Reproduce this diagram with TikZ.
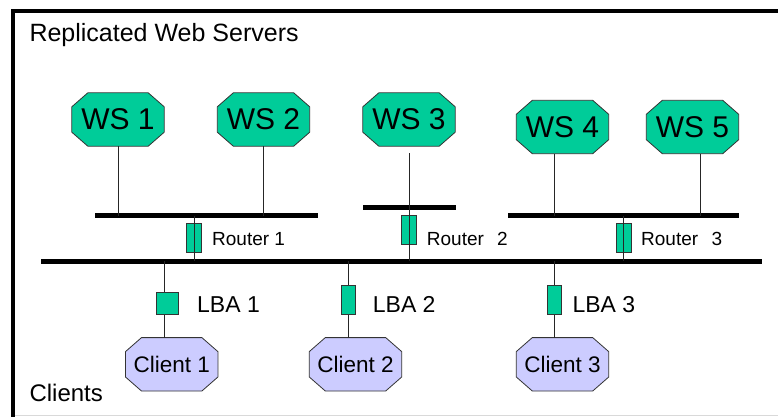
\documentclass[tikz,border=0pt]{standalone}
\usepackage{fontspec}
\setmainfont{Liberation Sans}
\usetikzlibrary{positioning, calc}

\definecolor{wsgreen}{RGB}{0,204,153}
\definecolor{cllilac}{RGB}{204,204,255}

\pgfdeclarelayer{background}
\pgfsetlayers{background,main}

\begin{document}
\begin{tikzpicture}[x=1pt, y=-1pt]

    \tikzstyle{octo}=[inner sep=0pt, minimum width=92pt, minimum height=53pt];
    \tikzstyle{server}=[octo, font=\fontsize{30}{32}\selectfont];
    \tikzstyle{client}=[octo, font=\fontsize{22.5}{24}\selectfont];
    \tikzstyle{edge}=[draw=black!80, line width=0.8pt];
    \tikzstyle{box}=[edge, fill=wsgreen, inner sep=0pt];
    \tikzstyle{bar}=[line width=5pt];
    \tikzstyle{wire}=[line width=1pt, black!85];

    \useasboundingbox (0,0) rectangle (778,417);

    % frame
    \draw[line width=4pt] (13,417) -- (13,11) -- (778,11);
    \draw[black!15, line width=1pt] (15,415.5) -- (778,415.5);
    \node[anchor=base west, font=\fontsize{25}{28}\selectfont] (top) at (26,42) {Replicated Web Servers};
    \node[anchor=base west, font=\fontsize{24}{28}\selectfont] (bot) at (26,401.5) {Clients};

    % servers
    \node[server] (ws1) at (118, 119.5) {WS 1};
    \node[server] (ws2) at (263.5, 119.5) {WS 2};
    \node[server] (ws3) at (409, 119.5) {WS 3};
    \node[server] (ws4) at (562.5, 127) {WS 4};
    \node[server] (ws5) at (692.5, 127) {WS 5};

    % clients
    \node[client] (cl1) at (171.7, 364.3) {Client 1};
    \node[client] (cl2) at (355.5, 364.3) {Client 2};
    \node[client] (cl3) at (562.5, 364.3) {Client 3};

    % octagons behind the labels
    \begin{pgfonlayer}{background}
    \foreach \n/\c in {ws1/wsgreen, ws2/wsgreen, ws3/wsgreen, ws4/wsgreen, ws5/wsgreen, cl1/cllilac, cl2/cllilac, cl3/cllilac}
        \draw[edge, fill=\c] ($(\n.north west)+(16,0)$) -- ($(\n.north east)+(-16,0)$)
            -- ($(\n.north east)+(0,14)$) -- ($(\n.south east)+(0,-14)$)
            -- ($(\n.south east)+(-16,0)$) -- ($(\n.south west)+(16,0)$)
            -- ($(\n.south west)+(0,-14)$) -- ($(\n.north west)+(0,14)$) -- cycle;
    \end{pgfonlayer}

    % bars
    \coordinate (b1w) at (95, 215.7);
    \coordinate (b1e) at (318, 215.7);
    \coordinate (b2w) at (363, 207.5);
    \coordinate (b2e) at (456, 207.5);
    \coordinate (b3w) at (508, 215.7);
    \coordinate (b3e) at (739, 215.7);
    \coordinate (mw) at (41, 261);
    \coordinate (me) at (762, 261);

    \draw[bar] (b1w) -- (b1e);
    \draw[bar] (b2w) -- (b2e);
    \draw[bar] (b3w) -- (b3e);
    \draw[bar] (mw) -- (me);

    % routers
    \node[box, minimum width=15pt, minimum height=29pt] (r1) at (194.3, 238) {};
    \node[box, minimum width=15pt, minimum height=29pt] (r2) at (409.2, 230.3) {};
    \node[box, minimum width=15pt, minimum height=29pt] (r3) at (623.5, 238) {};
    \node[anchor=base west, font=\fontsize{19}{20}\selectfont, inner sep=0pt] (r1l) at (212, 245.7) {Router 1};
    \node[anchor=base west, font=\fontsize{19}{20}\selectfont, inner sep=0pt] (r2l) at (426.7, 245.7) {Router\hspace{0.7em}2};
    \node[anchor=base west, font=\fontsize{19}{20}\selectfont, inner sep=0pt] (r3l) at (641, 245.7) {Router\hspace{0.7em}3};

    % load balancers
    \node[box, minimum width=22pt, minimum height=22pt] (lba1) at (167.8, 303.5) {};
    \node[box, minimum width=14pt, minimum height=29pt] (lba2) at (348, 299.7) {};
    \node[box, minimum width=14pt, minimum height=29pt] (lba3) at (554.8, 299.7) {};
    \node[anchor=base west, font=\fontsize{23}{24}\selectfont, inner sep=0pt] (lba1l) at (197, 312.7) {LBA 1};
    \node[anchor=base west, font=\fontsize{23}{24}\selectfont, inner sep=0pt] (lba2l) at (372.7, 312.7) {LBA 2};
    \node[anchor=base west, font=\fontsize{23}{24}\selectfont, inner sep=0pt] (lba3l) at (572.3, 312.7) {LBA 3};

    % taps
    \coordinate (t4) at (554.3, 215.7);
    \coordinate (t5) at (700, 215.7);
    \coordinate (c1) at (164, 261);

    \draw[wire] (ws1.south) -- (ws1.south |- b1w);
    \draw[wire] (ws2.south) -- (ws2.south |- b1w);
    \draw[wire] ($(ws3.south)+(0,7)$) -- (ws3.south |- b2w);
    \draw[wire] (t4 |- ws4.south) -- (t4);
    \draw[wire] (t5 |- ws5.south) -- (t5);

    \draw[wire] (r1 |- b1w) -- (r1 |- mw);
    \draw[wire] (r2 |- b2w) -- (r2 |- mw);
    \draw[wire] (r3 |- b3w) -- (r3 |- mw);

    \draw[wire] (c1) -- (c1 |- lba1.north);
    \draw[wire] (c1 |- lba1.south) -- (c1 |- cl1.north);
    \draw[wire] (lba2 |- mw) -- (lba2.north);
    \draw[wire] (lba2.south) -- (lba2 |- cl2.north);
    \draw[wire] (lba3 |- mw) -- (lba3.north);
    \draw[wire] (lba3.south) -- (lba3 |- cl3.north);

\end{tikzpicture}
\end{document}
